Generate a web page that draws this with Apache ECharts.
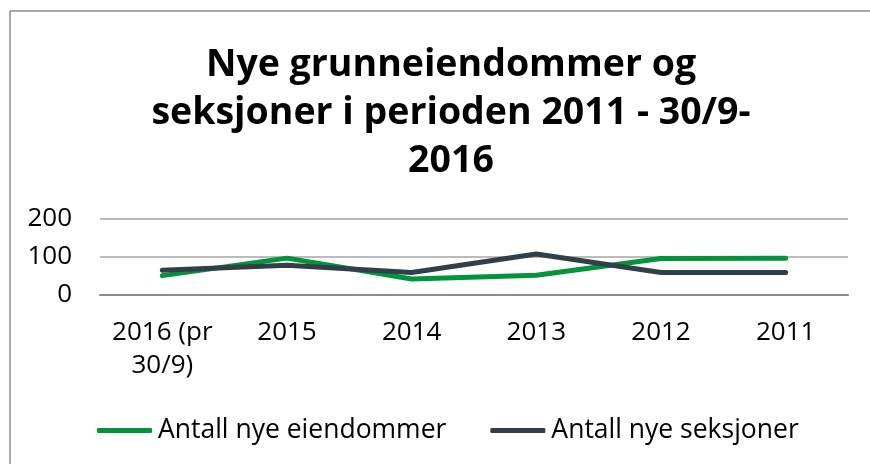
<!DOCTYPE html>
<html>
<head>
<meta charset="utf-8">
<script src="https://cdn.jsdelivr.net/npm/echarts@6/dist/echarts.min.js"></script>
<style>
  html, body { margin: 0; padding: 0; background: #fff; }
  #chart { width: 870px; height: 464px; }
</style>
</head>
<body>
<div id="chart"></div>
<script>
// data
const categories = ['2016 (pr\n30/9)', '2015', '2014', '2013', '2012', '2011'];
const eiendommer = [51, 97, 42, 52, 96, 97];
const seksjoner = [65, 78, 59, 108, 59, 59];
const yTicks = [0, 100, 200];

const chart = echarts.init(document.getElementById('chart'), null, { renderer: 'canvas' });

chart.setOption({
    animation: false,
    textStyle: { fontFamily: 'Open Sans' },
    title: {
        text: 'Nye grunneiendommer og\nseksjoner i perioden 2011 - 30/9-\n2016',
        left: 446,
        top: 36,
        textAlign: 'center',
        textStyle: {
            fontFamily: 'Open Sans',
            fontSize: 37.5,
            fontWeight: 'bold',
            color: '#000',
            lineHeight: 48
        }
    },
    graphic: [
        { type: 'line', shape: { x1: 10, y1: 11, x2: 870, y2: 11 }, style: { stroke: '#8c8c8c', lineWidth: 1.5 } },
        { type: 'line', shape: { x1: 10, y1: 11, x2: 10, y2: 464 }, style: { stroke: '#8c8c8c', lineWidth: 1.5 } }
    ],
    grid: { left: 100, right: 22, top: 219, bottom: 169 },
    xAxis: {
        type: 'category',
        data: categories,
        boundaryGap: true,
        axisLine: { show: true, lineStyle: { color: '#8c8c8c', width: 2 } },
        axisTick: { show: false },
        axisLabel: {
            color: '#000',
            fontSize: 26,
            margin: 21,
            lineHeight: 33,
            interval: 0
        }
    },
    yAxis: {
        type: 'value',
        min: yTicks[0],
        max: yTicks[yTicks.length - 1],
        interval: 100,
        axisLine: { show: false },
        axisTick: { show: false },
        axisLabel: { color: '#000', fontSize: 26, margin: 28 },
        splitLine: { lineStyle: { color: '#a6a6a6', width: 1.5 } }
    },
    legend: {
        bottom: 15,
        left: 92,
        itemWidth: 55,
        itemHeight: 5,
        itemGap: 44,
        icon: 'roundRect',
        textStyle: { fontSize: 26.5, color: '#000', padding: [0, 0, 0, 1] },
        data: ['Antall nye eiendommer', 'Antall nye seksjoner']
    },
    series: [
        {
            name: 'Antall nye eiendommer',
            type: 'line',
            data: eiendommer,
            symbol: 'none',
            color: '#00953a',
            lineStyle: { width: 5, color: '#00953a', cap: 'round' }
        },
        {
            name: 'Antall nye seksjoner',
            type: 'line',
            data: seksjoner,
            symbol: 'none',
            color: '#323e48',
            lineStyle: { width: 5, color: '#323e48', cap: 'round' }
        }
    ]
});
</script>
</body>
</html>
